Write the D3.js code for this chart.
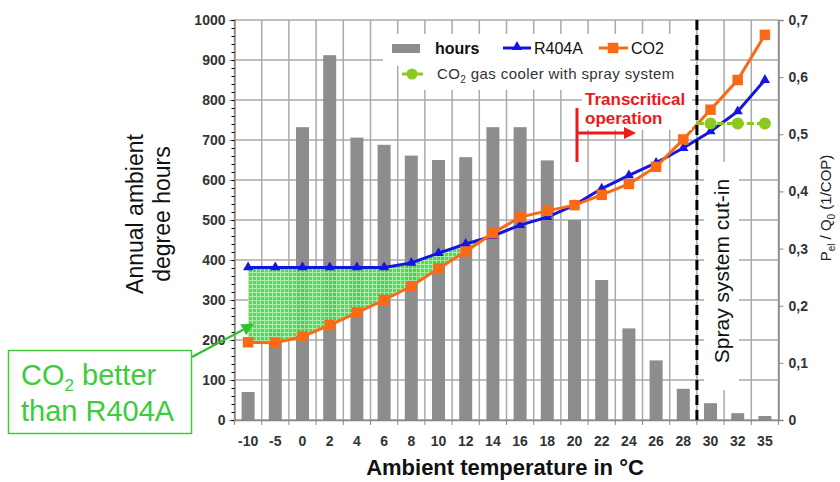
<!DOCTYPE html>
<html>
<head>
<meta charset="utf-8">
<script src="https://d3js.org/d3.v7.min.js"></script>
<style>
  body { margin: 0; background: #fff; }
  svg { font-family: "Liberation Sans", Arial, sans-serif; }
</style>
</head>
<body>
<div id="chart"></div>
<script>
// categories on the x axis (ambient temperature, degC)
const categories = ["-10","-5","0","2","4","6","8","10","12","14","16","18","20","22","24","26","28","30","32","35"];
// annual ambient degree hours (bars, left axis)
const hours = [70, 225, 732, 912, 706, 688, 661, 650, 657, 732, 732, 649, 500, 350, 229, 149, 78, 42, 17, 10];
// Pel / Q0 (right axis)
const r404a = [0.267, 0.267, 0.267, 0.267, 0.267, 0.267, 0.275, 0.292, 0.308, 0.322, 0.341, 0.355, 0.376, 0.405, 0.428, 0.450, 0.476, 0.505, 0.540, 0.595];
const co2   = [0.136, 0.135, 0.146, 0.166, 0.188, 0.210, 0.234, 0.265, 0.295, 0.327, 0.355, 0.366, 0.376, 0.394, 0.413, 0.443, 0.491, 0.543, 0.595, 0.674];
const spray = [null, null, null, null, null, null, null, null, null, null, null, null, null, null, null, null, null, 0.519, 0.519, 0.519];
const leftTicks = [0, 100, 200, 300, 400, 500, 600, 700, 800, 900, 1000];
const rightTicks = [0, 0.1, 0.2, 0.3, 0.4, 0.5, 0.6, 0.7];
const cutInAfter = "28"; // spray system cut-in between 28 and 30

const W = 840, H = 482;
const plot = { left: 234.5, right: 778.5, top: 20, bottom: 420 };

const svg = d3.select("#chart").append("svg")
  .attr("width", W).attr("height", H);

const x = d3.scaleBand().domain(categories).range([plot.left, plot.right]);
const yL = d3.scaleLinear().domain([0, 1000]).range([plot.bottom, plot.top]);
const yR = d3.scaleLinear().domain([0, 0.7]).range([plot.bottom, plot.top]);
const cx = c => x(c) + x.bandwidth() / 2;

// pattern for the green area
const defs = svg.append("defs");
const pat = defs.append("pattern").attr("id", "grid").attr("width", 4).attr("height", 4)
  .attr("patternUnits", "userSpaceOnUse");
pat.append("rect").attr("width", 4).attr("height", 4).attr("fill", "#52cf52");
pat.append("path").attr("d", "M0,0.5H4M0.5,0V4").attr("stroke", "#a6eca6").attr("stroke-width", 1);
defs.append("marker").attr("id", "garrow").attr("viewBox", "0 0 10 10").attr("refX", 8).attr("refY", 5)
  .attr("markerWidth", 5).attr("markerHeight", 5).attr("orient", "auto")
  .append("path").attr("d", "M0,0L10,5L0,10z").attr("fill", "#2fc42f");

// gridlines
const boundaries = categories.map(c => x(c)).concat([x.range()[1]]);
svg.append("g").selectAll("line").data(leftTicks).join("line")
  .attr("x1", plot.left).attr("x2", plot.right)
  .attr("y1", d => yL(d)).attr("y2", d => yL(d))
  .attr("stroke", "#a9a9a9").attr("stroke-width", 1.5);
svg.append("g").selectAll("line").data(boundaries).join("line")
  .attr("x1", d => d).attr("x2", d => d)
  .attr("y1", plot.top).attr("y2", plot.bottom)
  .attr("stroke", "#a9a9a9").attr("stroke-width", 1.5);

// bars
const barW = 13;
svg.append("g").selectAll("rect").data(hours).join("rect")
  .attr("x", (d, i) => cx(categories[i]) - barW / 2)
  .attr("width", barW)
  .attr("y", d => yL(d))
  .attr("height", d => plot.bottom - yL(d))
  .attr("fill", "#8d8d8d");

// green area where CO2 is better than R404A (until the curves cross)
const areaPts = [];
for (let i = 0; i < categories.length; i++) {
  if (co2[i] <= r404a[i]) {
    areaPts.push({ x: cx(categories[i]), hi: r404a[i], lo: co2[i] });
  } else {
    const p = areaPts[areaPts.length - 1];
    const d0 = r404a[i - 1] - co2[i - 1], d1 = r404a[i] - co2[i];
    const t = d0 / (d0 - d1);
    const v = r404a[i - 1] + t * (r404a[i] - r404a[i - 1]);
    areaPts.push({ x: p.x + t * (cx(categories[i]) - p.x), hi: v, lo: v });
    break;
  }
}
svg.append("path").datum(areaPts)
  .attr("d", d3.area().x(d => d.x).y0(d => yR(d.lo)).y1(d => yR(d.hi)))
  .attr("fill", "url(#grid)").attr("opacity", 0.92);

// axes
const axisL = svg.append("g").attr("transform", `translate(${plot.left},0)`)
  .call(d3.axisLeft(yL).tickValues(leftTicks).tickSize(5).tickPadding(4).tickFormat(d3.format("d")));
svg.append("g").attr("transform", `translate(${plot.left},0)`)
  .call(d3.axisLeft(yL).tickValues(d3.range(0, 1001, 20)).tickSize(3).tickFormat(""))
  .select(".domain").remove();
const axisR = svg.append("g").attr("transform", `translate(${plot.right},0)`)
  .call(d3.axisRight(yR).tickValues(rightTicks).tickSize(5).tickPadding(5)
    .tickFormat(d => d === 0 ? "0" : d3.format(".1f")(d).replace(".", ",")));
const axisB = svg.append("g").attr("transform", `translate(0,${plot.bottom})`)
  .call(d3.axisBottom(x).tickSize(0).tickPadding(16));
svg.append("g").selectAll("line").data(boundaries).join("line")
  .attr("x1", d => d).attr("x2", d => d)
  .attr("y1", plot.bottom).attr("y2", plot.bottom + 5)
  .attr("stroke", "#888");
[axisL, axisR, axisB].forEach(a => {
  a.selectAll(".domain").attr("stroke", "#888").attr("stroke-width", 1.5);
  a.selectAll(".tick line").attr("stroke", "#888");
  a.selectAll("text").attr("font-size", 14).attr("font-weight", "bold").attr("fill", "#333")
    .attr("font-family", "'Liberation Sans', Arial, sans-serif");
});

// series lines
function series(vals, color, sym, size) {
  const pts = vals.map((v, i) => ({ x: cx(categories[i]), v })).filter(d => d.v != null);
  svg.append("path").datum(pts)
    .attr("d", d3.line().x(d => d.x).y(d => yR(d.v)))
    .attr("fill", "none").attr("stroke", color).attr("stroke-width", 3);
  svg.append("g").selectAll("path").data(pts).join("path")
    .attr("transform", d => `translate(${d.x},${yR(d.v)})`)
    .attr("d", d3.symbol(sym, size)).attr("fill", color);
}
series(r404a, "#1414e6", d3.symbolTriangle, 45);
series(co2, "#fa6a14", d3.symbolSquare, 110);

// spray cut-in dashed line
const cutX = x(cutInAfter) + x.bandwidth();
svg.append("line").attr("x1", cutX).attr("x2", cutX).attr("y1", plot.top).attr("y2", plot.bottom)
  .attr("stroke", "#000").attr("stroke-width", 3).attr("stroke-dasharray", "10,5");

// CO2 gas cooler with spray system
const sprayPts = spray.map((v, i) => ({ x: cx(categories[i]), v })).filter(d => d.v != null);
svg.append("path").datum([{ x: cutX, v: sprayPts[0].v }].concat(sprayPts))
  .attr("d", d3.line().x(d => d.x).y(d => yR(d.v)))
  .attr("fill", "none").attr("stroke", "#8cc81e").attr("stroke-width", 3).attr("stroke-dasharray", "7,3");
svg.append("g").selectAll("circle").data(sprayPts).join("circle")
  .attr("cx", d => d.x).attr("cy", d => yR(d.v)).attr("r", 6).attr("fill", "#8cc81e");

// spray system cut-in label
svg.append("rect").attr("x", 704).attr("y", 162).attr("width", 35).attr("height", 228).attr("fill", "#fff");
svg.append("text").attr("transform", "translate(722,271) rotate(-90)")
  .attr("text-anchor", "middle").attr("dy", "0.35em").attr("font-size", 21).attr("fill", "#111")
  .text("Spray system cut-in");

// transcritical operation annotation
svg.append("rect").attr("x", 582).attr("y", 89).attr("width", 110).attr("height", 41).attr("fill", "#fff");
const tr = svg.append("text").attr("font-size", 17).attr("font-weight", "bold").attr("fill", "#f01818");
tr.append("tspan").attr("x", 585).attr("y", 105).text("Transcritical");
tr.append("tspan").attr("x", 585).attr("y", 124).text("operation");
svg.append("line").attr("x1", 577).attr("x2", 577).attr("y1", 108).attr("y2", 162)
  .attr("stroke", "#f01818").attr("stroke-width", 3);
svg.append("line").attr("x1", 577).attr("x2", 626).attr("y1", 133).attr("y2", 133)
  .attr("stroke", "#f01818").attr("stroke-width", 3);
svg.append("path").attr("d", "M624,127L636,133L624,139Z").attr("fill", "#f01818");

// legend
const lg = svg.append("g");
lg.append("rect").attr("x", 383).attr("y", 34).attr("width", 307).attr("height", 32).attr("fill", "#fff");
lg.append("rect").attr("x", 400).attr("y", 66).attr("width", 290).attr("height", 24).attr("fill", "#fff");
lg.append("rect").attr("x", 392).attr("y", 44).attr("width", 28).attr("height", 9).attr("fill", "#8d8d8d");
lg.append("text").attr("x", 435).attr("y", 54).attr("font-size", 16).attr("font-weight", "bold").attr("fill", "#111").text("hours");
lg.append("line").attr("x1", 503).attr("x2", 531).attr("y1", 48).attr("y2", 48).attr("stroke", "#1414e6").attr("stroke-width", 3);
lg.append("path").attr("transform", "translate(517,47)").attr("d", d3.symbol(d3.symbolTriangle, 45)).attr("fill", "#1414e6");
lg.append("text").attr("x", 534).attr("y", 54).attr("font-size", 16).attr("fill", "#111").text("R404A");
lg.append("line").attr("x1", 599).attr("x2", 628).attr("y1", 48).attr("y2", 48).attr("stroke", "#fa6a14").attr("stroke-width", 3);
lg.append("path").attr("transform", "translate(613,48)").attr("d", d3.symbol(d3.symbolSquare, 110)).attr("fill", "#fa6a14");
lg.append("text").attr("x", 631).attr("y", 54).attr("font-size", 16).attr("fill", "#111").text("CO2");
lg.append("line").attr("x1", 402).attr("x2", 423).attr("y1", 74).attr("y2", 74).attr("stroke", "#8cc81e").attr("stroke-width", 3);
lg.append("circle").attr("cx", 412).attr("cy", 74).attr("r", 5.5).attr("fill", "#8cc81e");
const lt = lg.append("text").attr("x", 437).attr("y", 79).attr("font-size", 15).attr("fill", "#333").attr("letter-spacing", 0.4);
lt.append("tspan").text("CO");
lt.append("tspan").attr("font-size", 10).attr("dy", 4).text("2");
lt.append("tspan").attr("dy", -4).text(" gas cooler with spray system");

// axis titles
const yt = svg.append("text").attr("transform", "translate(150,214) rotate(-90)")
  .attr("text-anchor", "middle").attr("font-size", 23).attr("fill", "#111");
yt.append("tspan").attr("x", 0).attr("dy", "-0.3em").text("Annual ambient");
yt.append("tspan").attr("x", 0).attr("dy", "1.15em").text("degree hours");
svg.append("text").attr("x", 505).attr("y", 475).attr("text-anchor", "middle")
  .attr("font-size", 22).attr("font-weight", "bold").attr("fill", "#111")
  .text("Ambient temperature in \u00B0C");
const rt = svg.append("text").attr("transform", "translate(826,208) rotate(-90)")
  .attr("text-anchor", "middle").attr("dy", "0.35em").attr("font-size", 15).attr("fill", "#222");
rt.append("tspan").text("P");
rt.append("tspan").attr("font-size", 10).attr("dy", 4).text("el");
rt.append("tspan").attr("dy", -4).text(" / Q");
rt.append("tspan").attr("font-size", 10).attr("dy", 4).text("0");
rt.append("tspan").attr("dy", -4).text(" (1/COP)");

// callout box
svg.append("line").attr("x1", 192).attr("y1", 357).attr("x2", 252).attr("y2", 325)
  .attr("stroke", "#2fc42f").attr("stroke-width", 2.5).attr("marker-end", "url(#garrow)");
svg.append("rect").attr("x", 8.5).attr("y", 350.5).attr("width", 183).attr("height", 83)
  .attr("fill", "#fff").attr("stroke", "#3ccc3c").attr("stroke-width", 1.5);
const ct = svg.append("text").attr("font-size", 29).attr("fill", "#3ccc3c");
const l1 = ct.append("tspan").attr("x", 21).attr("y", 385);
ct.append("tspan").attr("font-size", 17).attr("dy", 6).text("2");
ct.append("tspan").attr("dy", -6).text(" better");
l1.text("CO");
ct.append("tspan").attr("x", 21).attr("y", 421).text("than R404A");
</script>
</body>
</html>
